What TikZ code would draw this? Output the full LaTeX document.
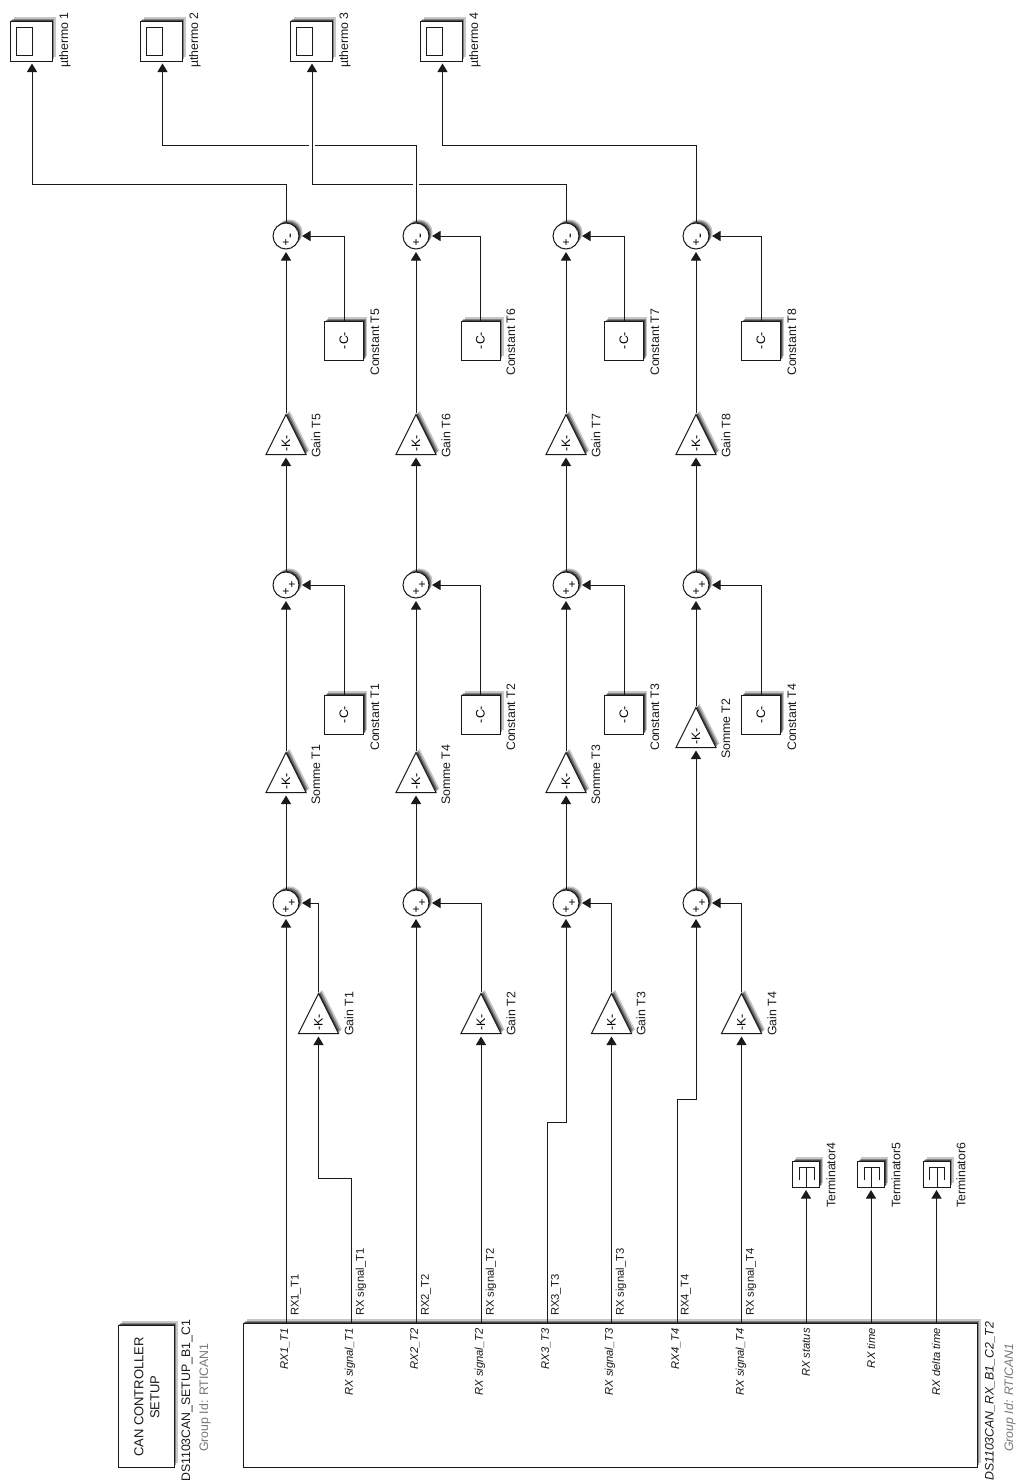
\documentclass[tikz,border=0pt]{standalone}
\usepackage{fontspec}
\setmainfont{Liberation Sans}
\usepackage{xcolor}
\usetikzlibrary{arrows.meta,shapes.geometric,shadows}
\definecolor{tline}{HTML}{1A1A1A}
\definecolor{tgroup}{HTML}{777777}

\begin{document}
\begin{tikzpicture}[x=1pt, y=-1pt, font=\fontsize{12.3}{15}\selectfont,
    softshadow/.style={drop shadow={shadow xshift=3.6pt, shadow yshift=3.6pt, opacity=.22, fill=black},
                       drop shadow={shadow xshift=2.4pt, shadow yshift=2.4pt, opacity=.34, fill=black},
                       drop shadow={shadow xshift=1.2pt, shadow yshift=1.2pt, opacity=.45, fill=black}},
    blk/.style={draw=tline, fill=white, line width=1pt, inner sep=0pt},
    constblk/.style={blk, softshadow, rectangle, minimum width=39pt, minimum height=39pt, rotate=90},
    gainblk/.style={blk, softshadow, isosceles triangle, isosceles triangle apex angle=53.13,
                    isosceles triangle stretches, minimum width=40pt, minimum height=40pt,
                    rotate=90, anchor=lower side, execute at end node={\hspace{6pt}}},
    sumblk/.style={blk, softshadow, circle, minimum size=26pt},
    sumplus/.style={sumblk, label={[sign, xshift=6pt]center:+}, label={[sign, yshift=-7pt]center:+}},
    summinus/.style={sumblk, label={[sign, xshift=6pt, rotate=90, font=\fontsize{15}{15}\selectfont]center:-},
                     label={[sign, yshift=-7pt]center:+}},
    sign/.style={font=\fontsize{12}{12}\selectfont, inner sep=0pt, text=black},
    scopeblk/.style={blk, softshadow, rectangle, minimum width=42pt, minimum height=40pt,
                     path picture={\draw[line width=1pt, shift={(path picture bounding box.center)}]
                                   (-14.5,-14) rectangle (1.5,14);}},
    termblk/.style={blk, softshadow, rectangle, minimum width=27pt, minimum height=26pt,
                    path picture={\draw[line width=1pt, shift={(path picture bounding box.center)}]
                                  (-7,6) -- (-7,-7) -- (8,-7) -- (8,6) (.5,-7) -- (.5,13);}},
    lbl/.style={rotate=90, anchor=west, inner sep=0pt, text=black!90},
    portout/.style={lbl, font=\fontsize{11.2}{13}\selectfont},
    portin/.style={rotate=90, anchor=east, inner sep=0pt, text=black!90, font=\fontsize{11.2}{13}\selectfont\itshape},
    sig/.style={draw=tline, line width=1pt, -{Triangle[width=10pt,length=8.5pt]}, shorten >=2.5pt},
    crossing/.style={draw=tline, line width=1pt, preaction={draw=white, line width=6pt}}]

    \useasboundingbox (0,0) rectangle (1017,1483);

    % --- CAN blocks --------------------------------------------------------
    \node[blk, softshadow, rectangle, minimum width=56pt, minimum height=142pt] (cansetup) at (146,1396) {};
    \node[rotate=90, align=center, inner sep=0pt, text=black!90, font=\fontsize{13}{16}\selectfont] (cansetuptxt) at (147,1397) {CAN CONTROLLER\\SETUP};
    \node[lbl] (cansetupname) at (187,1482) {DS1103CAN\_SETUP\_B1\_C1};
    \node[lbl, text=tgroup] (cansetupgrp) at (205,1452) {Group Id: RTICAN1};
    \node[blk, softshadow, rectangle, minimum width=734pt, minimum height=144pt] (canrx) at (610,1395) {};
    \node[lbl, font=\fontsize{12.3}{15}\selectfont\itshape] (canrxname) at (990,1481) {DS1103CAN\_RX\_B1\_C2\_T2};
    \node[lbl, text=tgroup, font=\fontsize{12.3}{15}\selectfont\itshape] (canrxgrp) at (1010,1452) {Group Id: RTICAN1};

    % ports of the RX block
    \coordinate (p1) at (286,1323);
    \coordinate (p2) at (351,1323);
    \coordinate (p3) at (416,1323);
    \coordinate (p4) at (481,1323);
    \coordinate (p5) at (547,1323);
    \coordinate (p6) at (611.5,1323);
    \coordinate (p7) at (677,1323);
    \coordinate (p8) at (741.5,1323);
    \coordinate (p9) at (806,1323);
    \coordinate (p10) at (871,1323);
    \coordinate (p11) at (936.5,1323);
    \node[portin] (in1) at (285,1328) {RX1\_T1};
    \node[portin] (in2) at (350,1328) {RX signal\_T1};
    \node[portin] (in3) at (415,1328) {RX2\_T2};
    \node[portin] (in4) at (480,1328) {RX signal\_T2};
    \node[portin] (in5) at (546,1328) {RX3\_T3};
    \node[portin] (in6) at (610,1328) {RX signal\_T3};
    \node[portin] (in7) at (676,1328) {RX4\_T4};
    \node[portin] (in8) at (741,1328) {RX signal\_T4};
    \node[portin] (in9) at (806,1328) {RX status};
    \node[portin] (in10) at (871,1328) {RX time};
    \node[portin] (in11) at (936,1328) {RX delta time};
    \node[portout] (out1) at (296,1316) {RX1\_T1};
    \node[portout] (out2) at (361,1316) {RX signal\_T1};
    \node[portout] (out3) at (426,1316) {RX2\_T2};
    \node[portout] (out4) at (491,1316) {RX signal\_T2};
    \node[portout] (out5) at (556,1316) {RX3\_T3};
    \node[portout] (out6) at (621,1316) {RX signal\_T3};
    \node[portout] (out7) at (686,1316) {RX4\_T4};
    \node[portout] (out8) at (751,1316) {RX signal\_T4};

    % --- terminators -------------------------------------------------------
    \node[termblk] (term4) at (806,1174) {};
    \node[termblk] (term5) at (871,1174) {};
    \node[termblk] (term6) at (936.5,1174) {};
    \node[lbl] (term4lbl) at (831,1208) {Terminator4};
    \node[lbl] (term5lbl) at (896,1208) {Terminator5};
    \node[lbl] (term6lbl) at (961,1208) {Terminator6};

    % --- first sums and their gains ----------------------------------------
    \node[sumplus] (sumA1) at (286,903) {};
    \node[sumplus] (sumB1) at (416,903) {};
    \node[sumplus] (sumC1) at (566,903) {};
    \node[sumplus] (sumD1) at (696,903) {};
    \node[gainblk] (gainT1) at (318.5,1034) {-K-};
    \node[gainblk] (gainT2) at (481,1034) {-K-};
    \node[gainblk] (gainT3) at (611.5,1034) {-K-};
    \node[gainblk] (gainT4) at (741.5,1034) {-K-};
    \node[lbl] (gainT1lbl) at (349,1036) {Gain T1};
    \node[lbl] (gainT2lbl) at (511,1036) {Gain T2};
    \node[lbl] (gainT3lbl) at (641,1036) {Gain T3};
    \node[lbl] (gainT4lbl) at (772,1036) {Gain T4};

    % --- Somme gains -------------------------------------------------------
    \node[gainblk] (sommeT1) at (286,793) {-K-};
    \node[gainblk] (sommeT4) at (416,793) {-K-};
    \node[gainblk] (sommeT3) at (566,793) {-K-};
    \node[gainblk] (sommeT2) at (696,748) {-K-};
    \node[lbl] (sommeT1lbl) at (316,805) {Somme T1};
    \node[lbl] (sommeT4lbl) at (446,805) {Somme T4};
    \node[lbl] (sommeT3lbl) at (596,805) {Somme T3};
    \node[lbl] (sommeT2lbl) at (726,759) {Somme T2};

    % --- second sums and constants -----------------------------------------
    \node[sumplus] (sumA2) at (286,585) {};
    \node[sumplus] (sumB2) at (416,585) {};
    \node[sumplus] (sumC2) at (566,585) {};
    \node[sumplus] (sumD2) at (696,585) {};
    \node[constblk] (constT1) at (344,714.5) {-C-};
    \node[constblk] (constT2) at (480.5,714.5) {-C-};
    \node[constblk] (constT3) at (624,714.5) {-C-};
    \node[constblk] (constT4) at (761,714.5) {-C-};
    \node[lbl] (constT1lbl) at (375,751) {Constant T1};
    \node[lbl] (constT2lbl) at (511,751) {Constant T2};
    \node[lbl] (constT3lbl) at (655,751) {Constant T3};
    \node[lbl] (constT4lbl) at (792,751) {Constant T4};

    % --- upper gains -------------------------------------------------------
    \node[gainblk] (gainT5) at (286,455) {-K-};
    \node[gainblk] (gainT6) at (416,455) {-K-};
    \node[gainblk] (gainT7) at (566,455) {-K-};
    \node[gainblk] (gainT8) at (696,455) {-K-};
    \node[lbl] (gainT5lbl) at (316,458) {Gain T5};
    \node[lbl] (gainT6lbl) at (446,458) {Gain T6};
    \node[lbl] (gainT7lbl) at (596,458) {Gain T7};
    \node[lbl] (gainT8lbl) at (726,458) {Gain T8};

    % --- last sums and constants -------------------------------------------
    \node[summinus] (sumA3) at (286,236) {};
    \node[summinus] (sumB3) at (416,236) {};
    \node[summinus] (sumC3) at (566,236) {};
    \node[summinus] (sumD3) at (696,236) {};
    \node[constblk] (constT5) at (344,340.5) {-C-};
    \node[constblk] (constT6) at (480.5,340.5) {-C-};
    \node[constblk] (constT7) at (624,340.5) {-C-};
    \node[constblk] (constT8) at (761,340.5) {-C-};
    \node[lbl] (constT5lbl) at (375,376) {Constant T5};
    \node[lbl] (constT6lbl) at (511,376) {Constant T6};
    \node[lbl] (constT7lbl) at (655,376) {Constant T7};
    \node[lbl] (constT8lbl) at (792,376) {Constant T8};

    % --- displays ----------------------------------------------------------
    \node[scopeblk] (thermo1) at (31,41) {};
    \node[scopeblk] (thermo2) at (161,41) {};
    \node[scopeblk] (thermo3) at (311,41) {};
    \node[scopeblk] (thermo4) at (441,41) {};
    \node[lbl] (thermo1lbl) at (65,68) {µthermo 1};
    \node[lbl] (thermo2lbl) at (195,68) {µthermo 2};
    \node[lbl] (thermo3lbl) at (345,68) {µthermo 3};
    \node[lbl] (thermo4lbl) at (475,68) {µthermo 4};

    % --- connectors --------------------------------------------------------
    % RX block to first sums
    \draw[sig] (p1) -- (sumA1.south);
    \draw[sig] (p3) -- (sumB1.south);
    \coordinate (bendC) at (566,1122);
    \coordinate (bendD) at (696,1099);
    \draw[sig] (p5) |- (bendC) -- (sumC1.south);
    \draw[sig] (p7) |- (bendD) -- (sumD1.south);
    % RX block to gains
    \coordinate (bendA) at (318.5,1178);
    \draw[sig] (p2) |- (bendA) -- (gainT1.lower side);
    \draw[sig] (p4) -- (gainT2.lower side);
    \draw[sig] (p6) -- (gainT3.lower side);
    \draw[sig] (p8) -- (gainT4.lower side);
    % RX block to terminators
    \draw[sig] (p9) -- (term4.south);
    \draw[sig] (p10) -- (term5.south);
    \draw[sig] (p11) -- (term6.south);
    % gains into first sums
    \draw[sig] (gainT1.apex) |- (sumA1.east);
    \draw[sig] (gainT2.apex) |- (sumB1.east);
    \draw[sig] (gainT3.apex) |- (sumC1.east);
    \draw[sig] (gainT4.apex) |- (sumD1.east);
    % first sums to Somme gains
    \draw[sig] (sumA1.north) -- (sommeT1.lower side);
    \draw[sig] (sumB1.north) -- (sommeT4.lower side);
    \draw[sig] (sumC1.north) -- (sommeT3.lower side);
    \draw[sig] (sumD1.north) -- (sommeT2.lower side);
    % Somme gains to second sums
    \draw[sig] (sommeT1.apex) -- (sumA2.south);
    \draw[sig] (sommeT4.apex) -- (sumB2.south);
    \draw[sig] (sommeT3.apex) -- (sumC2.south);
    \draw[sig] (sommeT2.apex) -- (sumD2.south);
    % constants into second sums
    \draw[sig] (constT1.east) |- (sumA2.east);
    \draw[sig] (constT2.east) |- (sumB2.east);
    \draw[sig] (constT3.east) |- (sumC2.east);
    \draw[sig] (constT4.east) |- (sumD2.east);
    % second sums to upper gains
    \draw[sig] (sumA2.north) -- (gainT5.lower side);
    \draw[sig] (sumB2.north) -- (gainT6.lower side);
    \draw[sig] (sumC2.north) -- (gainT7.lower side);
    \draw[sig] (sumD2.north) -- (gainT8.lower side);
    % upper gains to last sums
    \draw[sig] (gainT5.apex) -- (sumA3.south);
    \draw[sig] (gainT6.apex) -- (sumB3.south);
    \draw[sig] (gainT7.apex) -- (sumC3.south);
    \draw[sig] (gainT8.apex) -- (sumD3.south);
    % constants into last sums
    \draw[sig] (constT5.east) |- (sumA3.east);
    \draw[sig] (constT6.east) |- (sumB3.east);
    \draw[sig] (constT7.east) |- (sumC3.east);
    \draw[sig] (constT8.east) |- (sumD3.east);
    % last sums to displays
    \coordinate (thermo1in) at (32,61);
    \coordinate (thermo2in) at (162.5,61);
    \coordinate (thermo3in) at (312,61);
    \coordinate (thermo4in) at (442.5,61);
    \coordinate (bend1) at (32,184);
    \coordinate (bend2) at (162.5,145);
    \coordinate (bend3) at (312,184);
    \coordinate (bend4) at (442.5,145);
    \draw[sig] (sumA3.north) |- (bend1) -- (thermo1in);
    \draw[sig] (sumB3.north) |- (bend2) -- (thermo2in);
    \draw[sig] (sumC3.north) |- (bend3) -- (thermo3in);
    \draw[sig] (sumD3.north) |- (bend4) -- (thermo4in);
    % the two crossings
    \coordinate (crossAa) at (312,141);
    \coordinate (crossAb) at (312,149);
    \coordinate (crossBa) at (416,180);
    \coordinate (crossBb) at (416,188);
    \draw[crossing] (crossAa) -- (crossAb);
    \draw[crossing] (crossBa) -- (crossBb);
\end{tikzpicture}
\end{document}
